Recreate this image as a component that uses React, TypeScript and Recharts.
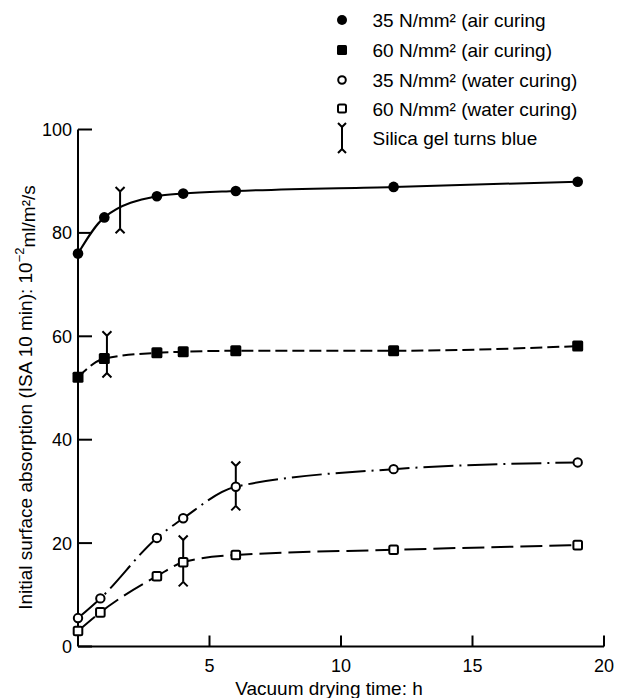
import React from 'react';
import { ComposedChart, Line, Scatter, XAxis, YAxis, Legend } from 'recharts';

const FONT = '"Liberation Sans", Arial, Helvetica, sans-serif';

// Vacuum drying time (h)
const hoursAir = [0, 1, 3, 4, 6, 12, 19];
const hoursWater = [0, 0.85, 3, 4, 6, 12, 19];
// Initial surface absorption (10^-2 ml/m2/s)
const air35 = [76, 83, 87.1, 87.6, 88.1, 88.9, 89.9];
const air60 = [52.1, 55.7, 56.8, 57, 57.2, 57.2, 58.1];
const water35 = [5.5, 9.3, 21, 24.8, 30.9, 34.3, 35.6];
const water60 = [3, 6.6, 13.6, 16.3, 17.7, 18.7, 19.6];
// "Silica gel turns blue" markers
const silicaHours = [1.6, 1.1, 6, 4];
const silicaLow = [80.8, 52.9, 27.2, 12.5];
const silicaHigh = [88, 60.1, 34.9, 20.6];

const yTicks = [0, 20, 40, 60, 80, 100];
const xTicks = [5, 10, 15, 20];

const legendLabels = [
  '35 N/mm² (air curing',
  '60 N/mm² (air curing)',
  '35 N/mm² (water curing)',
  '60 N/mm² (water curing)',
  'Silica gel turns blue',
];

const toPoints = (xs: number[], ys: number[]) => xs.map((x, i) => ({ x, y: ys[i] }));

const air35Data = toPoints(hoursAir, air35);
const air60Data = toPoints(hoursAir, air60);
const water35Data = toPoints(hoursWater, water35);
const water60Data = toPoints(hoursWater, water60);
const silicaData = silicaHours.map((x, i) => [
  { x, y: silicaHigh[i], end: 'top' },
  { x, y: silicaLow[i], end: 'bottom' },
]);

type Kind = 'fc' | 'fs' | 'oc' | 'os';

const MarkerShape = ({ cx, cy, kind }: { cx: number; cy: number; kind: Kind }) => {
  if (cx == null || cy == null) return null;
  if (kind === 'fc') return <circle cx={cx} cy={cy} r={5.3} fill="#000" />;
  if (kind === 'fs') return <rect x={cx - 5.5} y={cy - 5.5} width={11} height={11} rx={1.5} fill="#000" />;
  if (kind === 'oc') return <circle cx={cx} cy={cy} r={4.2} fill="#fff" stroke="#000" strokeWidth={2} />;
  return <rect x={cx - 4.3} y={cy - 4.3} width={8.6} height={8.6} rx={1.5} fill="#fff" stroke="#000" strokeWidth={2} />;
};

const makeDot = (kind: Kind) => (p: any) => (
  <MarkerShape key={`${kind}-${p.index}`} cx={p.cx} cy={p.cy} kind={kind} />
);

const SilicaEnd = (p: any) => {
  const { cx, cy, payload } = p;
  if (cx == null || cy == null) return <g />;
  const s = payload && payload.end === 'top' ? -1 : 1;
  return (
    <path
      d={`M${cx},${cy} L${cx - 4.5},${cy + s * 4.5} M${cx},${cy} L${cx + 4.5},${cy + s * 4.5}`}
      stroke="#000"
      strokeWidth={2}
      fill="none"
    />
  );
};

const YTick = (props: any) => {
  const { x, y, payload } = props;
  return (
    <g>
      <line x1={x} x2={x + 14} y1={y} y2={y} stroke="#000" strokeWidth={2} />
      <text x={x - 6} y={y} dy="0.36em" textAnchor="end" fontSize={18} fontFamily={FONT} fill="#000">
        {payload.value}
      </text>
    </g>
  );
};

const XTick = (props: any) => {
  const { x, y, payload } = props;
  return (
    <g>
      <line x1={x} x2={x} y1={y} y2={y - 11} stroke="#000" strokeWidth={2} />
      <text x={x} y={y + 25.5} textAnchor="middle" fontSize={18} fontFamily={FONT} fill="#000">
        {payload.value}
      </text>
    </g>
  );
};

const XLabel = (props: any) => {
  const vb = props.viewBox || { x: 78, y: 646.5, width: 526, height: 30 };
  return (
    <text x={vb.x + 251} y={vb.y + 48.5} textAnchor="middle" fontSize={19} fontFamily={FONT} fill="#000">
      Vacuum drying time: h
    </text>
  );
};

const YLabel = (props: any) => {
  const vb = props.viewBox || { x: 0, y: 129.5, width: 78, height: 517 };
  const cx = vb.x + 31.5;
  const cy = vb.y + vb.height / 2 + 9.5;
  return (
    <text
      transform={`translate(${cx},${cy}) rotate(-90)`}
      textAnchor="middle"
      fontSize={19}
      fontFamily={FONT}
      fill="#000"
    >
      Initial surface absorption (ISA 10 min): 10
      <tspan fontSize={13} dy="-0.55em">−2</tspan>
      <tspan dy="0.55em">ml/m²/s</tspan>
    </text>
  );
};

const legendRowsY = [20, 50, 80, 108.5];
const legendBaselines = [27, 56.5, 86.5, 115.5, 144.5];
const legendKinds: Kind[] = ['fc', 'fs', 'oc', 'os'];

const LegendBox = () => {
  const sx = 342;
  return (
    <svg width={625} height={160} style={{ display: 'block' }}>
      {legendKinds.map((k, i) => (
        <g key={k}>
          {k === 'fc' && <circle cx={sx} cy={legendRowsY[i]} r={5} fill="#000" />}
          {k === 'fs' && <rect x={sx - 5} y={legendRowsY[i] - 5} width={10} height={10} rx={1.5} fill="#000" />}
          {k === 'oc' && <circle cx={sx} cy={legendRowsY[i]} r={3.8} fill="#fff" stroke="#000" strokeWidth={2} />}
          {k === 'os' && (
            <rect x={sx - 4} y={legendRowsY[i] - 4} width={8} height={8} rx={1.5} fill="#fff" stroke="#000" strokeWidth={2} />
          )}
        </g>
      ))}
      <path
        d={`M${sx},127 L${sx},149 M${sx},127 L${sx - 4},123 M${sx},127 L${sx + 4},123 M${sx},149 L${sx - 4},153 M${sx},149 L${sx + 4},153`}
        stroke="#000"
        strokeWidth={2}
        fill="none"
      />
      {legendLabels.map((t, i) => (
        <text key={t} x={372.5} y={legendBaselines[i]} fontSize={19} fontFamily={FONT} fill="#000">
          {t}
        </text>
      ))}
    </svg>
  );
};

export default function App() {
  return (
    <div style={{ position: 'absolute', left: 0, top: 0, width: 625, height: 698, background: '#fff' }}>
      <ComposedChart width={625} height={698} margin={{ top: 129.5, right: 21, bottom: 21.5, left: 0 }}>
        <XAxis
          type="number"
          dataKey="x"
          domain={[0, 20]}
          ticks={xTicks}
          height={30}
          axisLine={{ stroke: '#000', strokeWidth: 2 }}
          tickLine={false}
          tickSize={0}
          tickMargin={0}
          tick={<XTick />}
          interval={0}
          label={<XLabel />}
        />
        <YAxis
          type="number"
          domain={[0, 100]}
          ticks={yTicks}
          width={78}
          axisLine={{ stroke: '#000', strokeWidth: 2 }}
          tickLine={false}
          tickSize={0}
          tickMargin={0}
          tick={<YTick />}
          interval={0}
          label={<YLabel />}
        />
        <Legend
          layout="vertical"
          align="center"
          verticalAlign="middle"
          content={() => <LegendBox />}
          wrapperStyle={{ position: 'absolute', left: 0, top: 0, width: 625, height: 160, margin: 0, padding: 0 }}
        />
        <Line
          data={air35Data}
          dataKey="y"
          type="monotone"
          stroke="#000"
          strokeWidth={2}
          dot={makeDot('fc')}
          activeDot={false}
          isAnimationActive={false}
        />
        <Line
          data={air60Data}
          dataKey="y"
          type="monotone"
          stroke="#000"
          strokeWidth={2}
          strokeDasharray="12 5"
          dot={makeDot('fs')}
          activeDot={false}
          isAnimationActive={false}
        />
        <Line
          data={water35Data}
          dataKey="y"
          type="monotone"
          stroke="#000"
          strokeWidth={2}
          strokeDasharray="30 6 2 6"
          dot={makeDot('oc')}
          activeDot={false}
          isAnimationActive={false}
        />
        <Line
          data={water60Data}
          dataKey="y"
          type="monotone"
          stroke="#000"
          strokeWidth={2}
          strokeDasharray="22 7"
          dot={makeDot('os')}
          activeDot={false}
          isAnimationActive={false}
        />
        {silicaData.map((d, i) => (
          <Scatter
            key={`silica-${i}`}
            data={d}
            dataKey="y"
            line={{ stroke: '#000', strokeWidth: 2 }}
            shape={<SilicaEnd />}
            isAnimationActive={false}
            legendType="none"
          />
        ))}
      </ComposedChart>
    </div>
  );
}
